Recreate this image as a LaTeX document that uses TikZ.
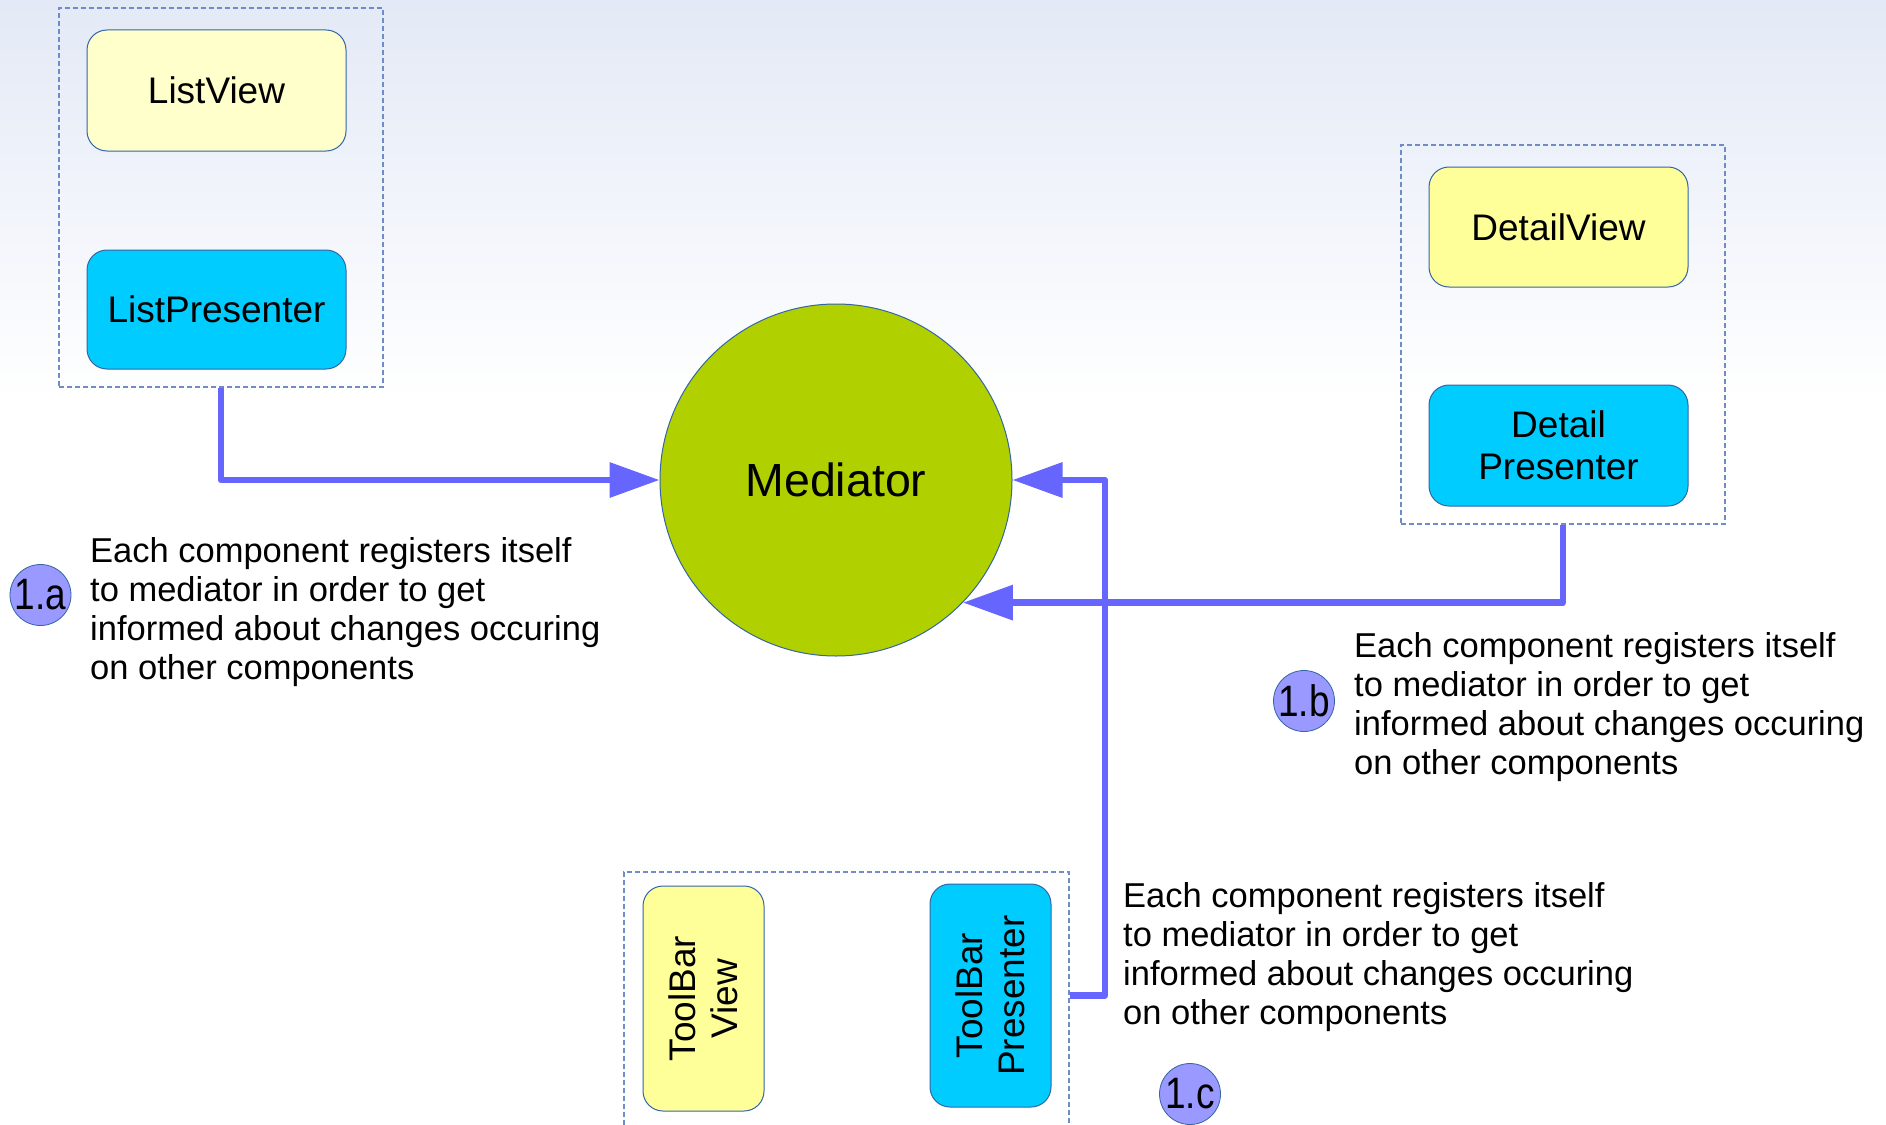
\documentclass[tikz,border=0pt]{standalone}
\usepackage{fontspec}
\setmainfont{Liberation Sans}
\usetikzlibrary{arrows.meta}

\definecolor{viewpale}{RGB}{255,255,204}
\definecolor{viewyellow}{RGB}{255,255,153}
\definecolor{presblue}{RGB}{0,204,255}
\definecolor{medgreen}{RGB}{176,208,0}
\definecolor{badgeblue}{RGB}{153,153,255}
\definecolor{linkblue}{RGB}{102,102,255}
\definecolor{edgeblue}{RGB}{52,101,164}
\definecolor{groupblue}{RGB}{110,140,200}
\definecolor{skytop}{RGB}{227,233,246}

\begin{document}
\begin{tikzpicture}[x=1pt,y=-1pt,
  comp/.style={draw=edgeblue, line width=1pt, rounded corners=20pt, inner sep=0pt,
    align=center, font=\fontsize{37}{42}\selectfont},
  groupbox/.style={draw=groupblue, line width=1.2pt, dash pattern=on 5pt off 3pt,
    inner sep=0pt, fill=none},
  mediator/.style={circle, draw=edgeblue, line width=1pt, fill=medgreen,
    minimum size=352pt, inner sep=0pt, font=\fontsize{46.5}{50}\selectfont},
  badge/.style={circle, draw=edgeblue, line width=0.8pt, fill=badgeblue,
    minimum size=61pt, inner sep=0pt, font=\fontsize{44}{50}\selectfont},
  note/.style={align=left, anchor=north west, inner sep=0pt,
    font=\fontsize{34.5}{39}\selectfont},
  link/.style={draw=linkblue, line width=6.5pt, line join=round,
    -{Triangle[length=50pt,width=34pt]}}]

% page and sky-tinted backdrop
\useasboundingbox (0,0) rectangle (1886,1124);
\clip (0,0) rectangle (1886,1124);
\fill[white] (0,0) rectangle (1886,1124);
\shade[top color=skytop, bottom color=white] (0,0) rectangle (1886,400);

% list component
\node[groupbox, minimum width=324pt, minimum height=379pt] (lg) at (221,197.5) {};
\node[comp, fill=viewpale, minimum width=259pt, minimum height=121pt] (lv) at (216.5,90.5) {ListView};
\node[comp, fill=presblue, minimum width=259pt, minimum height=119pt] (lp) at (216.5,309.5) {ListPresenter};

% detail component
\node[groupbox, minimum width=324pt, minimum height=379pt] (dg) at (1563,334.5) {};
\node[comp, fill=viewyellow, minimum width=259pt, minimum height=120pt] (dv) at (1558.5,227) {DetailView};
\node[comp, fill=presblue, minimum width=259pt, minimum height=121pt] (dp) at (1558.5,445.5) {Detail\\Presenter};

% toolbar component
\node[groupbox, minimum width=445pt, minimum height=278pt] (tg) at (846.5,1011) {};
\node[comp, fill=viewyellow, rotate=90, minimum width=225pt, minimum height=121pt] (tv) at (703.5,998.5) {ToolBar\\View};
\node[comp, fill=presblue, rotate=90, minimum width=223pt, minimum height=121pt] (tp) at (990.5,995.5) {ToolBar\\Presenter};

% mediator
\node[mediator] (med) at (836,480) {Mediator};

% registrations
\draw[link] (lg.south) |- (med.west);
\draw[link] (dg.south) |- (med.-44.3);
\coordinate (tbend) at (1105,480);
\draw[link] (tp -| tg.east) -| (tbend) -- (med.east);

% step badges and notes
\node[badge] (ba) at (40.5,595) {\scalebox{0.84}[1]{1.a}};
\node[badge] (bb) at (1304,701) {\scalebox{0.84}[1]{1.b}};
\node[badge] (bc) at (1190,1094) {\scalebox{0.84}[1]{1.c}};

\node[note] (na) at (90,537) {Each component registers itself\\to mediator in order to get\\informed about changes occuring\\on other components};
\node[note] (nb) at (1354,632) {Each component registers itself\\to mediator in order to get\\informed about changes occuring\\on other components};
\node[note] (nc) at (1123,882) {Each component registers itself\\to mediator in order to get\\informed about changes occuring\\on other components};

\end{tikzpicture}
\end{document}
